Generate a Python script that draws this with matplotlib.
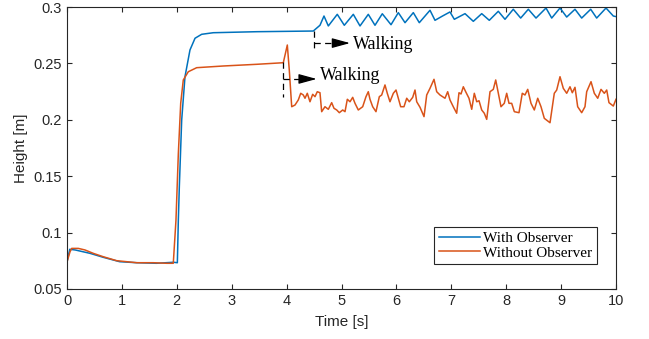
import matplotlib.pyplot as plt

t_obs = [0, 0.05, 0.15, 0.42, 0.66, 0.96, 1.27, 1.63, 1.94, 2.01, 2.028, 2.046, 2.089,
         2.149, 2.240, 2.332, 2.453, 2.665, 3.455, 4.486,
         4.608, 4.681, 4.760, 4.923, 5.051, 5.215, 5.337, 5.488, 5.610, 5.743, 5.902,
         6.035, 6.157, 6.308, 6.417, 6.612, 6.703, 6.84, 6.976, 7.055, 7.250, 7.401,
         7.554, 7.692, 7.856, 7.978, 8.129, 8.264, 8.403, 8.543, 8.725, 8.829, 8.980,
         9.102, 9.253, 9.375, 9.539, 9.648, 9.818, 9.951, 10.0]
h_obs = [0.074, 0.0852, 0.0846, 0.0816, 0.0781, 0.0742, 0.0733, 0.0728, 0.0737, 0.0733,
         0.1112, 0.1407, 0.1998, 0.2382, 0.2619, 0.2723, 0.2758, 0.2772, 0.2781, 0.2787,
         0.2838, 0.2920, 0.2832, 0.2935, 0.2838, 0.2935, 0.2832, 0.2935, 0.2838, 0.2940,
         0.2843, 0.2950, 0.2861, 0.2950, 0.2861, 0.2971, 0.2882, 0.2920, 0.2956, 0.2891,
         0.2941, 0.2873, 0.2941, 0.2882, 0.2962, 0.2891, 0.2980, 0.2902, 0.2980, 0.2902,
         0.2991, 0.2902, 0.2991, 0.2911, 0.2980, 0.2902, 0.2980, 0.2902, 0.2991, 0.2920,
         0.2915]

t_noobs = [0, 0.055, 0.086, 0.206, 0.328, 0.479, 0.661, 0.905, 1.27, 1.57, 1.82, 1.936,
           1.985, 2.028, 2.071, 2.118, 2.209, 2.362, 2.847, 3.455, 3.94, 4.013, 4.049,
           4.093, 4.153, 4.213, 4.257, 4.304, 4.335, 4.377, 4.426, 4.475, 4.517, 4.559,
           4.608, 4.639, 4.699, 4.760, 4.821, 4.863, 4.913, 4.960, 5.022, 5.064, 5.106,
           5.155, 5.204, 5.246, 5.306, 5.386, 5.446, 5.488, 5.519, 5.568, 5.628, 5.689,
           5.732, 5.792, 5.834, 5.883, 5.944, 5.993, 6.035, 6.078, 6.138, 6.188, 6.235,
           6.297, 6.339, 6.370, 6.430, 6.503, 6.552, 6.612, 6.685, 6.734, 6.794, 6.885,
           6.934, 6.976, 7.036, 7.098, 7.140, 7.177, 7.219, 7.262, 7.322, 7.372, 7.419,
           7.463, 7.505, 7.554, 7.601, 7.645, 7.705, 7.765, 7.809, 7.856, 7.905, 7.965,
           8.009, 8.051, 8.100, 8.148, 8.233, 8.293, 8.342, 8.392, 8.452, 8.512, 8.574,
           8.634, 8.694, 8.798, 8.876, 8.920, 8.980, 9.040, 9.102, 9.162, 9.204, 9.253,
           9.302, 9.375, 9.435, 9.466, 9.545, 9.605, 9.667, 9.727, 9.787, 9.831, 9.872,
           9.951, 10.0]
h_noobs = [0.074, 0.0830, 0.0860, 0.0860, 0.0846, 0.0816, 0.0786, 0.0751, 0.0733, 0.0733,
           0.0728, 0.0728, 0.1112, 0.170, 0.2146, 0.2353, 0.2426, 0.2462, 0.2477, 0.2492,
           0.2506, 0.2663, 0.2441, 0.2116, 0.2131, 0.2176, 0.2235, 0.2220, 0.2191, 0.2235,
           0.2160, 0.2226, 0.2205, 0.2249, 0.2240, 0.2072, 0.2116, 0.2093, 0.2152, 0.2102,
           0.2087, 0.2063, 0.2087, 0.2072, 0.2182, 0.2160, 0.2199, 0.2146, 0.2087, 0.2116,
           0.2205, 0.2249, 0.2182, 0.2116, 0.2072, 0.2205, 0.2220, 0.2309, 0.2235, 0.2160,
           0.2235, 0.2264, 0.2191, 0.2116, 0.2116, 0.2191, 0.2160, 0.2199, 0.2264, 0.2160,
           0.2111, 0.2028, 0.2220, 0.2279, 0.2359, 0.2249, 0.2220, 0.2191, 0.2249, 0.2176,
           0.2116, 0.2058, 0.2240, 0.2229, 0.2293, 0.2249, 0.2191, 0.2093, 0.2235, 0.2160,
           0.2169, 0.2087, 0.2058, 0.2004, 0.2249, 0.2270, 0.2353, 0.2235, 0.2116, 0.2146,
           0.2235, 0.2146, 0.2146, 0.2072, 0.2063, 0.2235, 0.2220, 0.2270, 0.2146, 0.2087,
           0.2191, 0.2116, 0.2013, 0.1974, 0.2235, 0.2264, 0.2382, 0.2279, 0.2235, 0.2293,
           0.2240, 0.2288, 0.2116, 0.2063, 0.2116, 0.2249, 0.2338, 0.2235, 0.2191, 0.2270,
           0.2235, 0.2264, 0.2152, 0.2122, 0.2182]

labels = ['With Observer', 'Without Observer']
xticks = list(range(0, 11))
yticks = [0.05, 0.1, 0.15, 0.2, 0.25, 0.3]
ytick_labels = ['0.05', '0.1', '0.15', '0.2', '0.25', '0.3']

# walking markers: (start time, line top, line bottom, arrow height, arrow tip, text y)
walk_obs = (4.5, 0.2787, 0.2601, 0.268, 5.155, 0.2668)
walk_noobs = (3.94, 0.2512, 0.2202, 0.2362, 4.548, 0.2389)

BLUE = '#0072BD'
ORANGE = '#D95319'
AX_COLOR = '#262626'
SANS = 'Liberation Sans'
SERIF = 'Liberation Serif'

fig = plt.figure(figsize=(6.49, 3.39), dpi=100)
ax = fig.add_axes([67 / 649, 1 - 289 / 339, 549 / 649, 282 / 339])

ax.plot(t_obs, h_obs, color=BLUE, lw=1.1, label=labels[0])
ax.plot(t_noobs, h_noobs, color=ORANGE, lw=1.1, label=labels[1])

dash = (0, (5, 3.5))
for x0, ytop, ybot, ya, xtip, ytxt in (walk_obs, walk_noobs):
    ax.plot([x0, x0], [ytop, ybot], color='k', lw=0.9, linestyle=dash)
    xb = xtip - 0.26
    ax.plot([x0, xb], [ya, ya], color='k', lw=0.9, linestyle=dash)
    ax.annotate('', xy=(xtip, ya), xytext=(xb, ya),
                arrowprops=dict(arrowstyle='-|>,head_length=1.1,head_width=0.3',
                                color='k', lw=0.9, shrinkA=0, shrinkB=0,
                                mutation_scale=10))
    ax.text(xtip + 0.06, ytxt, 'Walking', family=SERIF, fontsize=13,
            ha='left', va='center', color='k')

ax.set_xlim(0, 10)
ax.set_ylim(0.05, 0.3)
ax.set_xticks(xticks)
ax.set_yticks(yticks)
ax.set_yticklabels(ytick_labels)
ax.tick_params(direction='in', length=3.6, width=0.8, colors=AX_COLOR,
               top=True, right=True, labelsize=10.5, pad=3.5)
for lab in ax.get_xticklabels() + ax.get_yticklabels():
    lab.set_family(SANS)
    lab.set_color(AX_COLOR)
for sp in ax.spines.values():
    sp.set_color(AX_COLOR)
    sp.set_linewidth(0.8)

ax.set_xlabel('Time [s]', family=SANS, fontsize=11, color=AX_COLOR, labelpad=5)
ax.set_ylabel('Height [m]', family=SANS, fontsize=11, color=AX_COLOR, labelpad=4)

leg = ax.legend(loc='upper right', bbox_to_anchor=(0.965, 0.22), borderaxespad=0,
                prop={'family': SERIF, 'size': 11}, frameon=True, fancybox=False,
                edgecolor=AX_COLOR, framealpha=1, handlelength=2.7,
                handletextpad=0.2, labelspacing=0.05, borderpad=0.3)
leg.get_frame().set_linewidth(0.8)

fig.savefig('out.png', dpi=100)
